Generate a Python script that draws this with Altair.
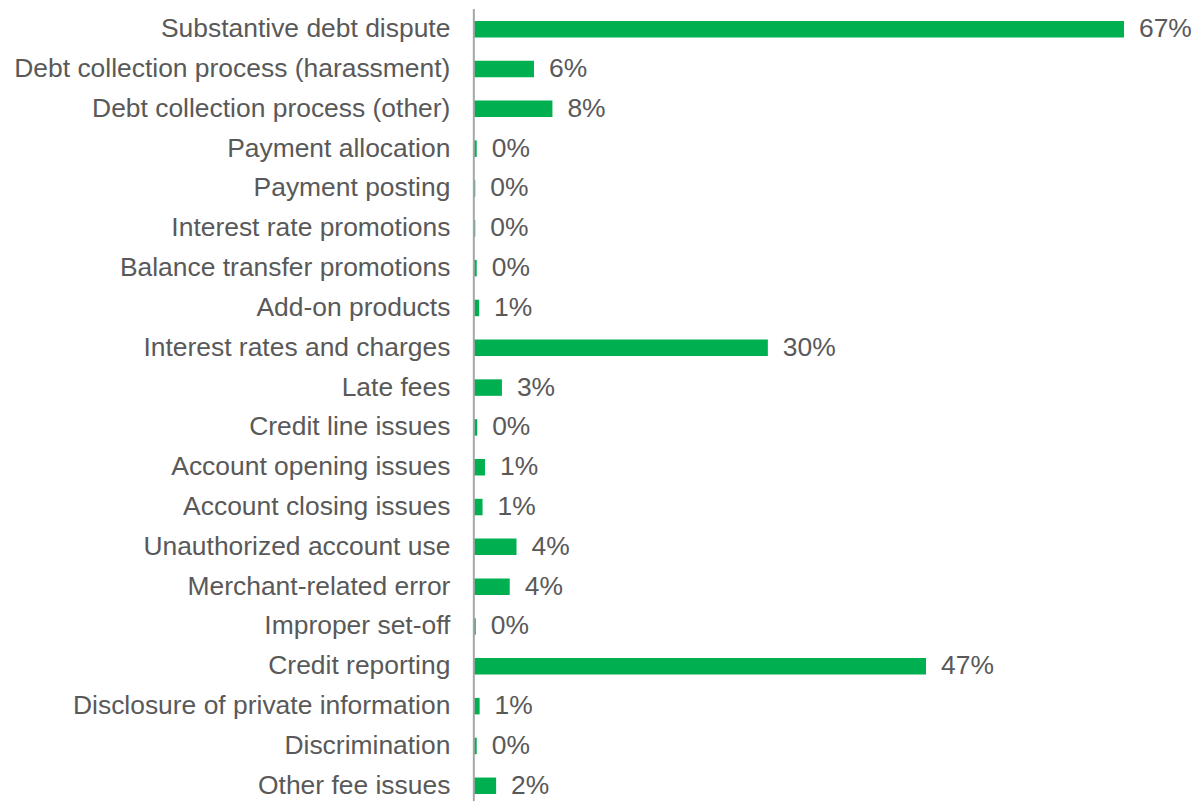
import altair as alt
import pandas as pd

categories = [
    "Substantive debt dispute",
    "Debt collection process (harassment)",
    "Debt collection process (other)",
    "Payment allocation",
    "Payment posting",
    "Interest rate promotions",
    "Balance transfer promotions",
    "Add-on products",
    "Interest rates and charges",
    "Late fees",
    "Credit line issues",
    "Account opening issues",
    "Account closing issues",
    "Unauthorized account use",
    "Merchant-related error",
    "Improper set-off",
    "Credit reporting",
    "Disclosure of private information",
    "Discrimination",
    "Other fee issues",
]
values = [67.0, 6.2, 8.1, 0.3, 0.15, 0.15, 0.3, 0.55, 30.3, 2.9, 0.35, 1.15, 0.9,
          4.4, 3.7, 0.2, 46.6, 0.6, 0.3, 2.3]

df = pd.DataFrame({"category": categories, "value": values})

GREEN = "#00B050"
GRAY = "#595959"
FONT = "Liberation Sans"
W, H = 681, 775

y_enc = alt.Y("category:N", sort=categories,
              scale=alt.Scale(paddingInner=0.586, paddingOuter=0),
              axis=alt.Axis(title=None, domain=False, ticks=False, grid=False,
                            labelFontSize=26.5, labelColor=GRAY, labelFont=FONT,
                            labelPadding=24, labelLimit=600))
x_scale = alt.Scale(domain=[0, 70], nice=False)

bars = alt.Chart(df).mark_bar(color=GREEN).encode(
    x=alt.X("value:Q", scale=x_scale, axis=None),
    y=y_enc,
)

text = alt.Chart(df).transform_calculate(
    label="format(datum.value, '.0f') + '%'"
).mark_text(align="left", baseline="middle", dx=15, fontSize=26.5,
            font=FONT, color=GRAY).encode(
    x=alt.X("value:Q", scale=x_scale, axis=None),
    y=alt.Y("category:N", sort=categories),
    text="label:N",
)

rule = alt.Chart(alt.Data(values=[{}])).mark_rule(
    color="#A6A6A6", strokeWidth=2
).encode(x=alt.value(0), y=alt.value(-12), y2=alt.value(H + 12))

chart = alt.layer(bars, text, rule).properties(
    width=W, height=H,
    autosize=alt.AutoSizeParams(type="none"),
    padding={"left": 467, "right": 40, "top": 12, "bottom": 6},
).configure(background="white").configure_view(strokeWidth=0, stroke="transparent")

chart.save("out.html", embed_options={"renderer": "svg", "actions": False})
